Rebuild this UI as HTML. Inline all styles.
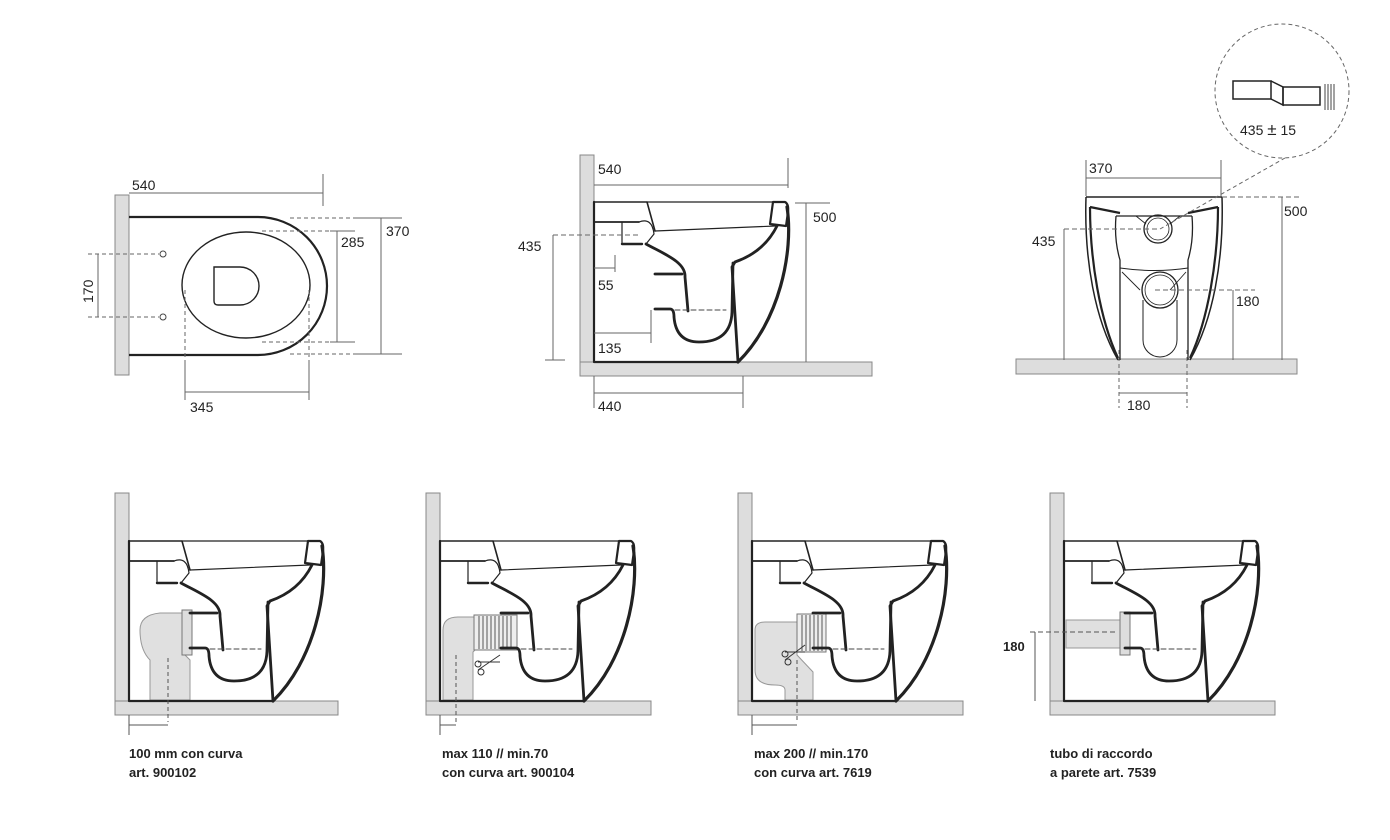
<!DOCTYPE html>
<html><head><meta charset="utf-8"><style>
html,body{margin:0;padding:0;background:#fff;}
svg{display:block;}
text{font-family:"Liberation Sans",sans-serif;font-size:14px;fill:#222;}
.b{font-weight:bold;font-size:13px;}
</style></head><body>
<svg width="1390" height="840" viewBox="0 0 1390 840" xmlns="http://www.w3.org/2000/svg">
<defs>
<g id="side" fill="none" stroke="#222" stroke-linejoin="round" stroke-linecap="round">
  <path d="M0,-160 V0 H144" stroke-width="2.2"/>
  <path d="M0,-160 H53 L61,-131" stroke-width="1.6"/>
  <path d="M53,-160 H179" stroke-width="1.2"/>
  <path d="M0,-140 H45" stroke-width="1.8"/>
  <path d="M28,-140 V-118 H48" stroke-width="1.2"/>
  <path d="M28,-118 H48" stroke-width="2.4"/>
  <path d="M45,-140 Q58,-145 60,-128 L52,-118" stroke-width="1.2"/>
  <path d="M61,-131 L181,-136" stroke-width="1.2"/>
  <path d="M179,-160 H191 Q195,-158 194,-150 L192,-136 L176,-138 Z" stroke-width="2.2"/>
  <path d="M193,-155 C200,-110 185,-40 144,0" stroke-width="3.2"/>
  <path d="M183,-136 Q170,-110 141,-100 L138,-95 L144,0" stroke-width="2.8"/>
  <path d="M52,-118 C70,-108 92,-100 91,-85 L94,-51" stroke-width="2.8"/>
  <path d="M61,-88 H88" stroke-width="2.8"/>
  <path d="M61,-53 H76 Q80,-53 80,-45 Q82,-20 105,-20 Q137,-20 138,-50 L139,-99" stroke-width="2.8"/>
  <path d="M81,-52 H132" stroke-width="1" stroke-dasharray="5,3" stroke="#444"/>
</g>
</defs>

<!-- ===== TOP LEFT PLAN ===== -->
<g stroke="#666" fill="none" stroke-width="1">
<rect x="115" y="195" width="14" height="180" fill="#ddd" stroke="#888"/>
<path d="M129,217 H258 A69,69 0 0 1 258,355 H129" stroke="#222" stroke-width="2.2"/>
<ellipse cx="246" cy="285" rx="64" ry="53" stroke="#222" stroke-width="1.4"/>
<path d="M214,267 H240 A19,19 0 0 1 240,305 H218 Q214,305 214,301 Z" stroke="#222" stroke-width="1.4"/>
<circle cx="163" cy="254" r="3" stroke="#444"/>
<circle cx="163" cy="317" r="3" stroke="#444"/>
<path d="M88,254 H159 M88,317 H159" stroke-dasharray="4,3"/>
<path d="M98,254 V317"/>
<path d="M129,193 H323 M323,174 V206"/>
<path d="M262,231 H330" stroke-dasharray="4,3"/><path d="M330,231 H355"/>
<path d="M262,342 H330" stroke-dasharray="4,3"/><path d="M330,342 H355"/>
<path d="M337,231 V342"/>
<path d="M290,218 H355" stroke-dasharray="4,3"/><path d="M355,218 H402"/>
<path d="M290,354 H355" stroke-dasharray="4,3"/><path d="M355,354 H402"/>
<path d="M381,218 V354"/>
<path d="M185,290 V360 M309,290 V360" stroke-dasharray="4,3"/>
<path d="M185,360 V400 M309,360 V400 M185,392 H309"/>
</g>
<text x="132" y="190">540</text>
<text x="341" y="247">285</text>
<text x="386" y="236">370</text>
<text x="190" y="412">345</text>
<text transform="translate(93,303) rotate(-90)">170</text>

<!-- ===== TOP MIDDLE SIDE ===== -->
<rect x="580" y="155" width="14" height="207" fill="#ddd" stroke="#888"/>
<rect x="580" y="362" width="292" height="14" fill="#ddd" stroke="#888"/>
<use href="#side" transform="translate(594,362)"/>
<g stroke="#666" fill="none" stroke-width="1">
<path d="M594,185 H788 M788,158 V188"/>
<path d="M795,203 H830 M806,203 V362"/>
<path d="M553,235 H640" stroke-dasharray="5,3"/>
<path d="M553,235 V360 M545,360 H565"/>
<path d="M594,268 H615 M615,255 V272"/>
<path d="M594,333 H651 M651,310 V343"/>
<path d="M594,393 H743 M743,376 V408 M594,376 V408"/>
</g>
<text x="598" y="174">540</text>
<text x="813" y="222">500</text>
<text x="518" y="251">435</text>
<text x="598" y="290">55</text>
<text x="598" y="353">135</text>
<text x="598" y="411">440</text>

<!-- ===== TOP RIGHT FRONT ===== -->
<rect x="1016" y="359" width="281" height="15" fill="#ddd" stroke="#888"/>
<g fill="none" stroke="#222" stroke-linejoin="round">
<path d="M1086,197 H1222" stroke-width="1.5"/>
<path d="M1086,197 C1084,260 1095,320 1118,360" stroke-width="1.5"/>
<path d="M1222,197 C1224,260 1213,320 1190,360" stroke-width="1.5"/>
<path d="M1090,207 L1120,213 M1090,207 C1090,260 1100,320 1118,358" stroke-width="2.2"/>
<path d="M1218,207 L1188,213 M1218,207 C1218,260 1208,320 1190,358" stroke-width="2.2"/>
<path d="M1116,216 H1192 M1116,216 Q1114,240 1120,260 V360 M1192,216 Q1194,240 1188,260 V360" stroke-width="1.3"/>
<path d="M1120,268 Q1155,273 1188,268" stroke-width="1"/>
<path d="M1136,216 L1146,224 M1180,216 L1170,224 M1122,272 L1140,290 M1186,272 L1170,290" stroke-width="0.9"/>
<circle cx="1158" cy="229" r="14" stroke-width="1.3"/><circle cx="1158" cy="229" r="11" stroke-width="0.8"/>
<circle cx="1160" cy="290" r="18" stroke-width="1.3"/><circle cx="1160" cy="290" r="15" stroke-width="0.8"/>
<path d="M1143,300 V340 A17,17 0 0 0 1177,340 V300" stroke-width="1"/>
</g>
<g stroke="#666" fill="none" stroke-width="1">
<path d="M1086,178 H1221 M1086,160 V196 M1221,160 V196"/>
<path d="M1222,197 H1300" stroke-dasharray="5,3"/>
<path d="M1282,197 V360"/>
<path d="M1064,229 H1160" stroke-dasharray="5,3"/><path d="M1064,229 V360"/>
<path d="M1155,290 H1255" stroke-dasharray="5,3"/><path d="M1233,290 V360"/>
<path d="M1119,350 V408 M1187,350 V408" stroke-dasharray="4,3"/>
<path d="M1119,393 H1187"/>
<path d="M1160,229 L1285,158" stroke-dasharray="4,3"/>
<circle cx="1282" cy="91" r="67" stroke-dasharray="4,3"/>
</g>
<text x="1089" y="173">370</text>
<text x="1284" y="216">500</text>
<text x="1032" y="246">435</text>
<text x="1236" y="306">180</text>
<text x="1127" y="410">180</text>
<g fill="none" stroke="#222" stroke-width="1.5">
<rect x="1233" y="81" width="38" height="18"/>
<path d="M1271,81 L1283,87 V105 L1271,99"/>
<rect x="1283" y="87" width="37" height="18"/>
</g>
<path d="M1325,84 V110 M1328,84 V110 M1331,84 V110 M1334,84 V110" stroke="#444" stroke-width="1"/>
<text x="1240" y="135">435 <tspan font-size="17">±</tspan> 15</text>

<!-- ===== BOTTOM ROW ===== -->
<g fill="#ddd" stroke="#888">
<rect x="115" y="493" width="14" height="208"/><rect x="115" y="701" width="223" height="14"/>
<rect x="426" y="493" width="14" height="208"/><rect x="426" y="701" width="225" height="14"/>
<rect x="738" y="493" width="14" height="208"/><rect x="738" y="701" width="225" height="14"/>
<rect x="1050" y="493" width="14" height="208"/><rect x="1050" y="701" width="225" height="14"/>
</g>
<!-- pipes -->
<g fill="#e0e0e0" stroke="#999" stroke-width="1">
<path d="M150,700 V660 Q140,650 140,630 Q140,615 160,613 H182 V652 L190,660 V700 Z"/>
<path d="M182,610 H192 V655 H182 Z" fill="#ddd" stroke="#777"/>
<path d="M443,700 V630 Q443,617 458,617 H475 V650 L473,652 V700 Z"/>
<path d="M474,615 H517 V650 H474 Z" fill="#eee" stroke="#777"/>
<path d="M755,630 Q755,622 765,622 H797 V655 L813,672 V700 H785 V690 Q785,685 775,685 Q755,685 755,670 Z"/>
<path d="M797,614 H826 V652 H797 Z" fill="#eee" stroke="#777"/>
<path d="M1066,620 H1120 V648 H1066 Z"/>
<path d="M1120,612 H1130 V655 H1120 Z" fill="#ddd" stroke="#777"/>
</g>
<g stroke="#555" stroke-width="1">
<path d="M479,616 V649 M483,616 V649 M487,616 V649 M491,616 V649 M495,616 V649 M499,616 V649 M503,616 V649 M507,616 V649 M511,616 V649"/>
<path d="M802,615 V651 M806,615 V651 M810,615 V651 M814,615 V651 M818,615 V651 M822,615 V651"/>
</g>
<g fill="none" stroke="#333" stroke-width="1">
<path d="M478,670 L500,655 M478,662 L500,662"/><circle cx="481" cy="672" r="3"/><circle cx="478" cy="664" r="3"/>
<path d="M785,660 L805,645 M785,652 L805,652"/><circle cx="788" cy="662" r="3"/><circle cx="785" cy="654" r="3"/>
</g>
<use href="#side" transform="translate(129,701)"/>
<use href="#side" transform="translate(440,701)"/>
<use href="#side" transform="translate(752,701)"/>
<use href="#side" transform="translate(1064,701)"/>
<g stroke="#555" fill="none" stroke-width="1">
<path d="M168,658 V722 M456,655 V722 M797,660 V722" stroke-dasharray="4,3"/>
<path d="M129,725 H168 M129,715 V735"/>
<path d="M440,725 H456 M440,715 V735"/>
<path d="M752,725 H797 M752,715 V735"/>
<path d="M1030,632 H1115" stroke-dasharray="5,3"/>
<path d="M1035,632 V701"/>
</g>
<text x="1003" y="651" class="b">180</text>
<text x="129" y="758" class="b">100 mm con curva</text>
<text x="129" y="777" class="b">art. 900102</text>
<text x="442" y="758" class="b">max 110 // min.70</text>
<text x="442" y="777" class="b">con curva art. 900104</text>
<text x="754" y="758" class="b">max 200 // min.170</text>
<text x="754" y="777" class="b">con curva art. 7619</text>
<text x="1050" y="758" class="b">tubo di raccordo</text>
<text x="1050" y="777" class="b">a parete art. 7539</text>
</svg>
</body></html>
